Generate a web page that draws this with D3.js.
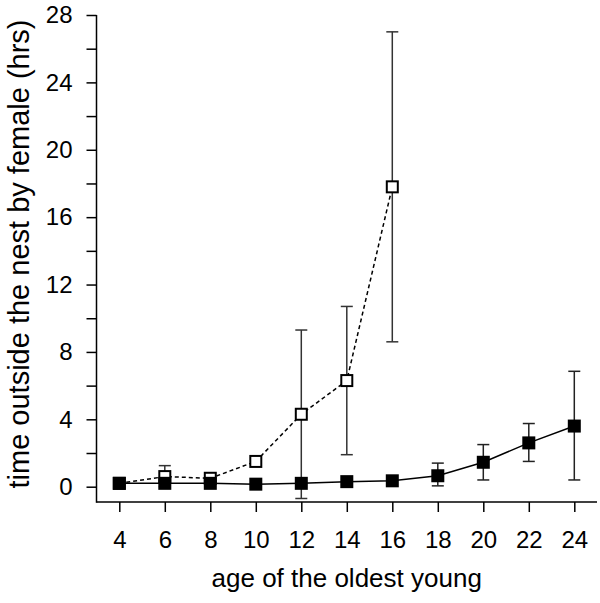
<!DOCTYPE html>
<html>
<head>
<meta charset="utf-8">
<script src="https://cdn.jsdelivr.net/npm/d3@7"></script>
<style>
  html, body { margin: 0; padding: 0; background: #fff; }
  svg { display: block; font-family: Arial, "Liberation Sans", sans-serif; }
</style>
</head>
<body>
<svg id="chart" width="600" height="603"></svg>
<script>
// ---- data ----
const ages = [4, 6, 8, 10, 12, 14, 16, 18, 20, 22, 24];
const filledMean  = [0.2, 0.2, 0.2, 0.15, 0.2, 0.3, 0.35, 0.65, 1.45, 2.6, 3.6];
const filledUpper = [null, null, null, null, null, null, null, 1.4, 2.5, 3.75, 6.85];
const filledLower = [null, null, null, null, null, null, null, 0.05, 0.4, 1.5, 0.4];

const openAges  = [4, 6, 8, 10, 12, 14, 16];
const openMean  = [0.2, 0.6, 0.5, 1.5, 4.3, 6.3, 17.8];
const openUpper = [null, 1.25, null, null, 9.3, 10.7, 27.0];
const openLower = [null, 0.0, null, null, -0.7, 1.9, 8.6];

const xTicks = [4, 6, 8, 10, 12, 14, 16, 18, 20, 22, 24];
const yTicks = [0, 2, 4, 6, 8, 10, 12, 14, 16, 18, 20, 22, 24, 26, 28];
const yLabels = [0, 4, 8, 12, 16, 20, 24, 28];

const xTitle = "age of the oldest young";
const yTitle = "time outside the nest by female (hrs)";

// ---- layout ----
const svg = d3.select("#chart");
const x = d3.scaleLinear().domain([4, 24]).range([119.3, 574.3]);
const y = d3.scaleLinear().domain([0, 28]).range([486.7, 15]);
const axisY = 502;   // x-axis line position
const axisX = 96.5;  // y-axis line position

// axes
const gx = svg.append("g").attr("transform", `translate(0,${axisY})`)
  .call(d3.axisBottom(x).tickValues(xTicks).tickSize(10).tickPadding(19).tickFormat(d3.format("d")));
gx.select(".domain").remove();
gx.selectAll(".tick line").attr("stroke", "#000").attr("stroke-width", 1.5);
gx.selectAll(".tick text").attr("font-size", 24).attr("fill", "#000")
  .attr("font-family", "Arial, 'Liberation Sans', sans-serif");

const gy = svg.append("g").attr("transform", `translate(${axisX},0)`)
  .call(d3.axisLeft(y).tickValues(yTicks).tickSize(10).tickPadding(14)
    .tickFormat(d => yLabels.includes(d) ? d : ""));
gy.select(".domain").remove();
gy.selectAll(".tick line").attr("stroke", "#000").attr("stroke-width", 1.5);
gy.selectAll(".tick text").attr("font-size", 24).attr("fill", "#000")
  .attr("font-family", "Arial, 'Liberation Sans', sans-serif");

svg.append("line").attr("x1", axisX).attr("x2", 597).attr("y1", axisY).attr("y2", axisY)
  .attr("stroke", "#000").attr("stroke-width", 1.5);
svg.append("line").attr("x1", axisX).attr("x2", axisX).attr("y1", y(28)).attr("y2", axisY + 0.75)
  .attr("stroke", "#000").attr("stroke-width", 1.5);

// titles
svg.append("text").attr("x", 346.7).attr("y", 587).attr("text-anchor", "middle")
  .attr("font-size", 26).attr("fill", "#000").text(xTitle);
svg.append("text").attr("transform", "translate(29,254) rotate(-90)").attr("text-anchor", "middle")
  .attr("font-size", 29).attr("fill", "#000").text(yTitle);

// helper: error bars
function errorBars(xs, up, lo, col) {
  const g = svg.append("g").attr("stroke", col).attr("stroke-width", 1.5).attr("fill", "none");
  xs.forEach((a, i) => {
    const top = up[i] != null ? up[i] : null;
    const bot = lo[i] != null ? lo[i] : null;
    if (top == null && bot == null) return;
    const yt = y(top != null ? top : 0), yb = y(bot != null ? bot : 0);
    g.append("line").attr("x1", x(a)).attr("x2", x(a)).attr("y1", yt).attr("y2", yb);
    if (top != null) g.append("line").attr("x1", x(a) - 6).attr("x2", x(a) + 6).attr("y1", yt).attr("y2", yt);
    if (bot != null) g.append("line").attr("x1", x(a) - 6).attr("x2", x(a) + 6).attr("y1", yb).attr("y2", yb);
  });
}

// open series (dashed)
errorBars(openAges, openUpper, openLower, "#333");
const openPts = openAges.map((a, i) => [a, openMean[i]]);
svg.append("path").datum(openPts)
  .attr("d", d3.line().x(d => x(d[0])).y(d => y(d[1])))
  .attr("fill", "none").attr("stroke", "#000").attr("stroke-width", 1.5).attr("stroke-dasharray", "4,3");
svg.append("g").selectAll("rect").data(openPts).join("rect")
  .attr("x", d => x(d[0]) - 5.5).attr("y", d => y(d[1]) - 5.5)
  .attr("width", 11).attr("height", 11)
  .attr("fill", "#fff").attr("stroke", "#000").attr("stroke-width", 2);

// filled series (solid)
const filledPts = ages.map((a, i) => [a, filledMean[i]]);
svg.append("path").datum(filledPts)
  .attr("d", d3.line().x(d => x(d[0])).y(d => y(d[1])))
  .attr("fill", "none").attr("stroke", "#000").attr("stroke-width", 1.5);
errorBars(ages, filledUpper, filledLower, "#222");
svg.append("g").selectAll("rect").data(filledPts).join("rect")
  .attr("x", d => x(d[0]) - 6.5).attr("y", d => y(d[1]) - 6.5)
  .attr("width", 13).attr("height", 13)
  .attr("fill", "#000");
</script>
</body>
</html>
